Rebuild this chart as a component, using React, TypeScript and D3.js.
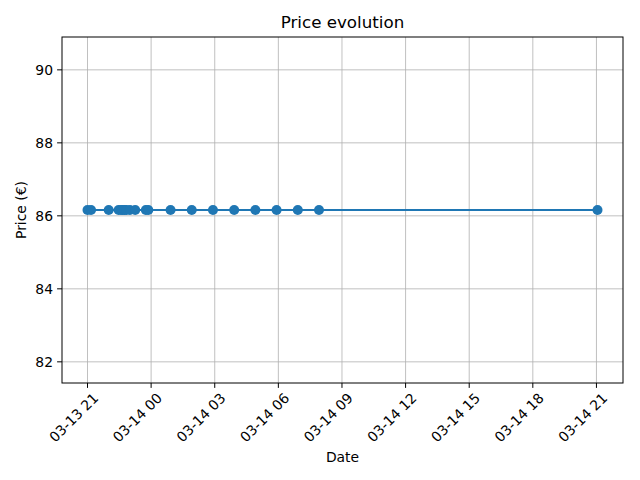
import * as d3 from "d3";
import { useEffect, useRef } from "react";

const times = [
  "2024-03-13T21:00", "2024-03-13T21:10", "2024-03-13T22:00", "2024-03-13T22:28",
  "2024-03-13T22:35", "2024-03-13T22:40", "2024-03-13T22:45", "2024-03-13T22:50",
  "2024-03-13T23:00", "2024-03-13T23:15", "2024-03-13T23:45", "2024-03-13T23:52",
  "2024-03-14T00:55", "2024-03-14T01:55", "2024-03-14T02:55", "2024-03-14T03:55",
  "2024-03-14T04:55", "2024-03-14T05:55", "2024-03-14T06:55", "2024-03-14T07:55",
  "2024-03-14T21:03",
];
const prices = [
  86.16, 86.16, 86.16, 86.16, 86.16, 86.16, 86.16, 86.16, 86.16, 86.16, 86.16,
  86.16, 86.16, 86.16, 86.16, 86.16, 86.16, 86.16, 86.16, 86.16, 86.16,
];
const yTicks = [82, 84, 86, 88, 90];

export default function App() {
  const ref = useRef<SVGSVGElement>(null);

  useEffect(() => {
    if (!ref.current) return;
    const svg = d3.select(ref.current);
    svg.selectAll("*").remove();
    const W = 640, H = 480;
    const m = { top: 37, right: 17, bottom: 97, left: 62 };
    const font = "DejaVu Sans";
    const fs = 13.9;
    const data = times.map((t, i) => ({ t: new Date(t + ":00Z"), v: prices[i] }));
    const [t0, t1] = d3.extent(data, d => d.t) as [Date, Date];
    const pad = (+t1 - +t0) * 0.05;
    const x = d3.scaleUtc().domain([+t0 - pad, +t1 + pad]).range([m.left, W - m.right]);
    const vm = prices[0];
    const y = d3.scaleLinear().domain([vm - 4.74, vm + 4.74]).range([H - m.bottom, m.top]);

    const xTicks = d3.utcHour.every(3)!.range(new Date("2024-03-13T21:00:00Z"), new Date("2024-03-14T22:00:00Z"));
    const fmt = d3.utcFormat("%m-%d %H");

    const g = svg.append("g");
    g.selectAll(".gx").data(xTicks).join("line")
      .attr("x1", d => x(d)).attr("x2", d => x(d))
      .attr("y1", m.top).attr("y2", H - m.bottom)
      .attr("stroke", "#b0b0b0").attr("stroke-width", 0.8);
    g.selectAll(".gy").data(yTicks).join("line")
      .attr("x1", m.left).attr("x2", W - m.right)
      .attr("y1", d => y(d)).attr("y2", d => y(d))
      .attr("stroke", "#b0b0b0").attr("stroke-width", 0.8);

    const line = d3.line<{ t: Date; v: number }>().x(d => x(d.t)).y(d => y(d.v));
    g.append("path").datum(data).attr("d", line)
      .attr("fill", "none").attr("stroke", "#1f77b4").attr("stroke-width", 2);
    g.selectAll(".pt").data(data).join("circle")
      .attr("cx", d => x(d.t)).attr("cy", d => y(d.v)).attr("r", 5)
      .attr("fill", "#1f77b4");

    g.append("rect").attr("x", m.left).attr("y", m.top)
      .attr("width", W - m.left - m.right).attr("height", H - m.top - m.bottom)
      .attr("fill", "none").attr("stroke", "black").attr("stroke-width", 1);

    yTicks.forEach(v => {
      g.append("line").attr("x1", m.left - 4.9).attr("x2", m.left)
        .attr("y1", y(v)).attr("y2", y(v)).attr("stroke", "black").attr("stroke-width", 1);
      g.append("text").attr("x", m.left - 9).attr("y", y(v)).attr("dy", "0.35em")
        .attr("text-anchor", "end").attr("font-size", fs).attr("font-family", font).text(v);
    });
    xTicks.forEach(t => {
      const px = x(t), py = H - m.bottom;
      g.append("line").attr("x1", px).attr("x2", px).attr("y1", py).attr("y2", py + 4.9)
        .attr("stroke", "black").attr("stroke-width", 1);
      g.append("text").attr("transform", `translate(${px + 5},${py + 9}) rotate(-45)`)
        .attr("text-anchor", "end").attr("dy", "0.7em")
        .attr("font-size", fs).attr("font-family", font).text(fmt(t));
    });

    svg.append("text").attr("x", (m.left + W - m.right) / 2).attr("y", 28)
      .attr("text-anchor", "middle").attr("font-size", 16.7).attr("font-family", font).text("Price evolution");
    svg.append("text").attr("x", (m.left + W - m.right) / 2).attr("y", 462)
      .attr("text-anchor", "middle").attr("font-size", fs).attr("font-family", font).text("Date");
    svg.append("text").attr("transform", `translate(26,${(m.top + H - m.bottom) / 2}) rotate(-90)`)
      .attr("text-anchor", "middle").attr("font-size", fs).attr("font-family", font).text("Price (€)");
  }, []);

  return <svg ref={ref} width={640} height={480} style={{ display: "block", position: "absolute", left: 0, top: 0 }} />;
}
